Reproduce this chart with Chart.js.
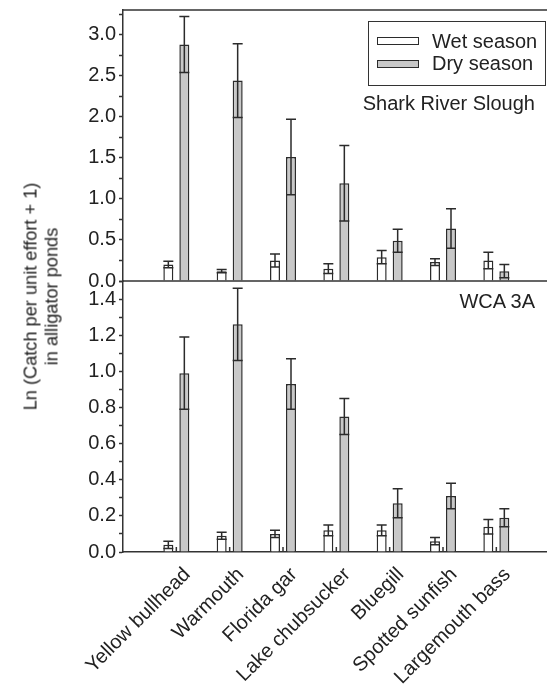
<!DOCTYPE html>
<html>
<head>
<meta charset="utf-8">
<script src="https://cdn.jsdelivr.net/npm/chart.js@4.4.0/dist/chart.umd.min.js"></script>
<style>
  html, body { margin: 0; padding: 0; background: #fff; overflow: hidden; }
  #wrap { position: relative; width: 547px; height: 690px; font-family: 'Liberation Sans', Arial, sans-serif; color: #222; }
  #chart { position: absolute; left: 0; top: 0; }
  .txt { position: absolute; font-size: 20px; line-height: 20px; white-space: nowrap; }
  #legend { position: absolute; left: 368px; top: 21px; width: 176px; height: 63px; border: 1px solid #333; }
  .swatch { position: absolute; left: 8px; width: 40px; height: 6px; border: 1.5px solid #2b2b2b; }
  #ytitle { position: absolute; left: -109px; top: 276px; width: 300px; height: 41px; font-size: 18.2px; line-height: 20.5px;
            text-align: center; transform: rotate(-90deg); transform-origin: center; white-space: nowrap; }
</style>
</head>
<body>
<div id="wrap">
  <canvas id="chart" width="547" height="690"></canvas>
  <div id="ytitle">Ln (Catch per unit effort + 1)<br>in alligator ponds</div>
  <div id="legend">
    <div class="swatch" style="top:15px; background:#fff"></div>
    <div class="txt" style="left:63px; top:9px">Wet season</div>
    <div class="swatch" style="top:38px; background:#c8c8c8"></div>
    <div class="txt" style="left:63px; top:31px">Dry season</div>
  </div>
  <div class="txt" style="right:12px; top:93px">Shark River Slough</div>
  <div class="txt" style="right:12px; top:291px">WCA 3A</div>
</div>
<script>
// Fish species (x categories)
const species = ['Yellow bullhead', 'Warmouth', 'Florida gar', 'Lake chubsucker', 'Bluegill', 'Spotted sunfish', 'Largemouth bass'];

// Shark River Slough (top panel)
const srsWet = [0.20, 0.12, 0.25, 0.15, 0.29, 0.23, 0.25];
const srsWetErr = [0.04, 0.02, 0.08, 0.06, 0.08, 0.04, 0.10];
const srsDry = [2.88, 2.44, 1.51, 1.19, 0.49, 0.64, 0.12];
const srsDryErr = [0.34, 0.45, 0.46, 0.46, 0.14, 0.24, 0.08];

// WCA 3A (bottom panel)
const wcaWet = [0.04, 0.09, 0.10, 0.12, 0.12, 0.06, 0.14];
const wcaWetErr = [0.02, 0.02, 0.02, 0.03, 0.03, 0.02, 0.04];
const wcaDry = [0.99, 1.26, 0.93, 0.75, 0.27, 0.31, 0.19];
const wcaDryErr = [0.20, 0.20, 0.14, 0.10, 0.08, 0.07, 0.05];

const ink = '#2b2b2b';
const dryFill = '#c8c8c8';

function points(values) {
    return values.map((v, i) => ({ x: i + 1, y: v }));
}

function barSet(label, values, errors, fill, stack, yAxisID) {
    return {
        label, data: points(values), errors, stack, yAxisID,
        backgroundColor: fill, borderColor: ink, borderWidth: 1.5,
        categoryPercentage: 0.6, barPercentage: 0.625
    };
}

// Error bars with caps at both ends
const errorBars = {
    id: 'errorBars',
    afterDatasetsDraw(chart) {
        const ctx = chart.ctx;
        ctx.save();
        ctx.strokeStyle = ink;
        ctx.lineWidth = 1.5;
        chart.data.datasets.forEach((ds, i) => {
            const meta = chart.getDatasetMeta(i);
            const yScale = chart.scales[meta.yAxisID];
            meta.data.forEach((bar, j) => {
                const v = ds.data[j].y, e = ds.errors[j];
                const yTop = yScale.getPixelForValue(v + e);
                const yBot = yScale.getPixelForValue(Math.max(0, v - e));
                const half = bar.width / 2;
                ctx.beginPath();
                ctx.moveTo(bar.x, yTop); ctx.lineTo(bar.x, yBot);
                ctx.moveTo(bar.x - half, yTop); ctx.lineTo(bar.x + half, yTop);
                ctx.moveTo(bar.x - half, yBot); ctx.lineTo(bar.x + half, yBot);
                ctx.stroke();
            });
        });
        ctx.restore();
    }
};

// Frame: top border, divider between panels, inner category ticks
const frame = {
    id: 'frame',
    afterDraw(chart) {
        const { ctx, chartArea } = chart;
        const x = chart.scales.x;
        const yTop = chart.scales.ySrs;
        const yBot = chart.scales.yWca;
        ctx.save();
        ctx.strokeStyle = '#333';
        ctx.lineWidth = 1.5;
        ctx.beginPath();
        ctx.moveTo(chartArea.left, chartArea.top);
        ctx.lineTo(chartArea.right, chartArea.top);
        const mid = yTop.getPixelForValue(0);
        ctx.moveTo(chartArea.left, mid);
        ctx.lineTo(chartArea.right, mid);
        const base = yBot.getPixelForValue(0);
        species.forEach((s, i) => {
            const px = x.getPixelForValue(i + 1);
            ctx.moveTo(px, base);
            ctx.lineTo(px, base - 5);
        });
        ctx.stroke();
        ctx.restore();
    }
};

function yAxis(max, step, labelEvery) {
    return {
        type: 'linear', position: 'left', stack: 'panels', stackWeight: 1,
        min: 0, max, stacked: false,
        grid: { drawOnChartArea: false, drawTicks: true, tickLength: 4, tickColor: '#333', tickWidth: 1.5 },
        border: { display: true, color: '#333', width: 1.5 },
        ticks: {
            stepSize: step, includeBounds: false, autoSkip: false, padding: 3, color: '#222',
            font: { size: 20 },
            callback: v => (Math.round(v / step) % labelEvery === 0 ? v.toFixed(1) : '')
        },
        afterFit: s => { s.width = 123; s.paddingTop = 0; s.paddingBottom = 0; }
    };
}

Chart.defaults.font.family = "'Liberation Sans', Arial, sans-serif";
Chart.defaults.color = '#222';

new Chart(document.getElementById('chart'), {
    type: 'bar',
    data: {
        datasets: [
            barSet('Wet season', wcaWet, wcaWetErr, '#fff', 'wet', 'yWca'),
            barSet('Dry season', wcaDry, wcaDryErr, dryFill, 'dry', 'yWca'),
            barSet('Wet season', srsWet, srsWetErr, '#fff', 'wet', 'ySrs'),
            barSet('Dry season', srsDry, srsDryErr, dryFill, 'dry', 'ySrs')
        ]
    },
    options: {
        responsive: false,
        animation: false,
        layout: { padding: { top: 10, left: 0, right: 0, bottom: 0 } },
        plugins: { legend: { display: false }, tooltip: { enabled: false } },
        scales: {
            x: {
                type: 'linear', min: 0, max: 7.95, offset: false,
                grid: { drawOnChartArea: false, drawTicks: false, offset: false },
                border: { display: true, color: '#333', width: 1.5 },
                ticks: {
                    stepSize: 1, includeBounds: false, autoSkip: false,
                    minRotation: 45, maxRotation: 45, padding: 11, labelOffset: 11,
                    color: '#222', font: { size: 20 },
                    callback: v => species[v - 1] || ''
                },
                afterFit: s => { s.height = 138; s.paddingLeft = 0; s.paddingRight = 0; }
            },
            yWca: yAxis(1.5, 0.1, 2),
            ySrs: yAxis(3.3, 0.25, 2)
        }
    },
    plugins: [errorBars, frame]
});
</script>
</body>
</html>
